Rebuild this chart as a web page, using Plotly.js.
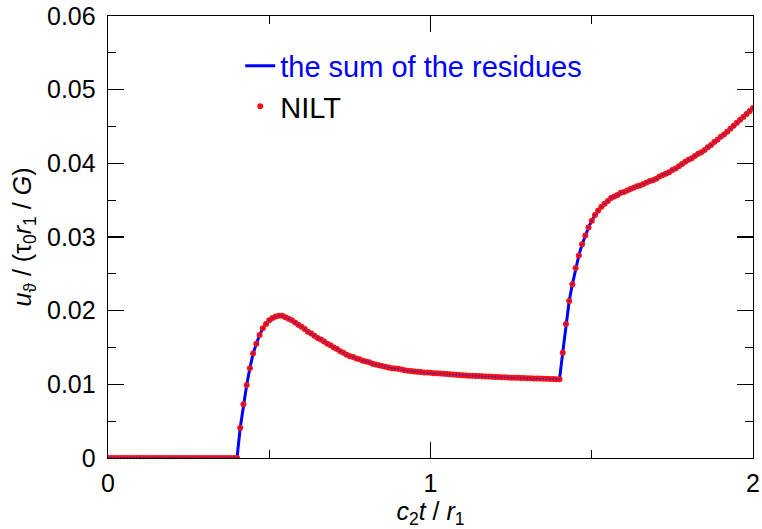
<!DOCTYPE html>
<html>
<head>
<meta charset="utf-8">
<script src="https://cdn.plot.ly/plotly-3.0.1.min.js"></script>
<style>
  html, body { margin: 0; padding: 0; background: #fff; }
  #chart { width: 762px; height: 529px; }
</style>
</head>
<body>
<div id="chart"></div>
<script>
// Sampling grid for c2 t / r1 (0 .. 2, step 0.01)
const tStart = 0;
const tStep = 0.01;

// Displacement u_theta / (tau0 r1 / G) at each grid point
const residueSum = [
  0, 0, 0, 0, 0, 0, 0, 0, 0, 0,
  0, 0, 0, 0, 0, 0, 0, 0, 0, 0,
  0, 0, 0, 0, 0, 0, 0, 0, 0, 0,
  0, 0, 0, 0, 0, 0, 0, 0, 0, 0,
  0,
  0.0041, 0.0073, 0.0099, 0.0122, 0.0142, 0.0155, 0.0167, 0.0176, 0.0182, 0.0187,
  0.0190, 0.0192, 0.01932, 0.0193, 0.0191, 0.0189, 0.0187, 0.0184, 0.0181, 0.0178,
  0.0175, 0.01715, 0.0169, 0.0166, 0.0163, 0.0161, 0.0158, 0.0155, 0.0153, 0.0150,
  0.0148, 0.0145, 0.0143, 0.0140, 0.0138, 0.0137, 0.0135, 0.0134, 0.0132, 0.0131,
  0.0130, 0.0128, 0.0127, 0.0126, 0.0125, 0.0124, 0.0123, 0.0122, 0.01215, 0.0121,
  0.0120, 0.0119, 0.01186, 0.0118, 0.01175, 0.0117, 0.01166, 0.01162, 0.01159, 0.01156,
  0.01152, 0.01149, 0.01146, 0.01142, 0.01139, 0.01136, 0.01133, 0.01130, 0.01127, 0.01124,
  0.01121, 0.01118, 0.01116, 0.01114, 0.01112, 0.01110, 0.01108, 0.01106, 0.01103, 0.01101,
  0.01099, 0.01097, 0.01095, 0.01093, 0.01090, 0.01089, 0.01088, 0.01086, 0.01085, 0.01083,
  0.01082, 0.01080, 0.01079, 0.01078, 0.01076, 0.01075, 0.01073, 0.01071, 0.01070, 0.01068,
  0.0143, 0.0182, 0.0213, 0.0236, 0.0258, 0.0275, 0.0290, 0.0302, 0.0313, 0.0322,
  0.0330, 0.0336, 0.0341, 0.0345, 0.0349, 0.0353, 0.0355, 0.0357, 0.0360, 0.0361,
  0.0363, 0.0365, 0.0367, 0.0369, 0.0370, 0.0372, 0.0374, 0.0376, 0.0377, 0.0379,
  0.0382, 0.0384, 0.0386, 0.0388, 0.0391, 0.0393, 0.0396, 0.0399, 0.0402, 0.0405,
  0.0407, 0.0410, 0.0413, 0.0415, 0.0418, 0.0422, 0.0425, 0.0429, 0.0432, 0.0436,
  0.0439, 0.0443, 0.0447, 0.0451, 0.0455, 0.0459, 0.0463, 0.0467, 0.0471, 0.0475
];

// Numerical inverse Laplace transform results, sampled on the same grid
const niltValues = residueSum.slice();

const tValues = residueSum.map((_, i) => +(tStart + i * tStep).toFixed(4));

const xTickVals = [0, 1, 2];
const yTickVals = [0, 0.01, 0.02, 0.03, 0.04, 0.05, 0.06];

const FONT = 'Liberation Sans, Arial, Helvetica, sans-serif';

const traces = [
  {
    x: tValues, y: residueSum,
    type: 'scatter', mode: 'lines',
    name: '<span style="color:#0000ff">the sum of the residues</span>',
    line: { color: '#0000ff', width: 3 }
  },
  {
    x: tValues, y: niltValues,
    type: 'scatter', mode: 'markers',
    name: 'NILT',
    marker: { color: '#ff1010', size: 6, line: { width: 0 } }
  },
  {
    x: tValues, y: niltValues,
    type: 'scatter', mode: 'markers',
    showlegend: false, hoverinfo: 'skip',
    marker: { color: '#2020e0', size: 1.8, line: { width: 0 } }
  }
];

const axisCommon = {
  showline: true, linecolor: '#000', linewidth: 1.3,
  mirror: 'ticks', ticks: 'inside', ticklen: 16, tickwidth: 1.3, tickcolor: '#000',
  showgrid: false, zeroline: false,
  tickfont: { family: FONT, size: 25, color: '#000' }
};

const layout = {
  width: 762, height: 529,
  margin: { l: 108, r: 9, t: 16, b: 71 },
  paper_bgcolor: '#fff', plot_bgcolor: '#fff',
  font: { family: FONT, color: '#000' },
  showlegend: true,
  legend: {
    x: 0.205, y: 0.945, xanchor: 'left', yanchor: 'top',
    bgcolor: 'rgba(0,0,0,0)', borderwidth: 0,
    font: { family: FONT, size: 29, color: '#000' },
    tracegroupgap: 0, itemwidth: 30
  },
  xaxis: Object.assign({}, axisCommon, {
    range: [0, 2], tickvals: xTickVals, ticktext: xTickVals.map(String),
    ticklabelstandoff: 3,
    minor: { dtick: 0.5, ticklen: 8, tickwidth: 1.3, tickcolor: '#000', ticks: 'inside' },
    title: {
      text: '<i>c</i><sub>2</sub><i>t</i> / <i>r</i><sub>1</sub>',
      font: { family: FONT, size: 25, color: '#000' }, standoff: 12
    }
  }),
  yaxis: Object.assign({}, axisCommon, {
    range: [0, 0.06], tickvals: yTickVals, ticktext: yTickVals.map(v => v === 0 ? '0' : v.toFixed(2)),
    ticklabelstandoff: 6,
    minor: { dtick: 0.005, ticklen: 8, tickwidth: 1.3, tickcolor: '#000', ticks: 'inside' },
    title: {
      text: '<i>u</i><sub>ϑ</sub> / (τ<sub>0</sub><i>r</i><sub>1</sub> / <i>G</i>)',
      font: { family: FONT, size: 25, color: '#000' }, standoff: 8
    }
  })
};

Plotly.newPlot('chart', traces, layout, { staticPlot: true, displayModeBar: false });
</script>
</body>
</html>
